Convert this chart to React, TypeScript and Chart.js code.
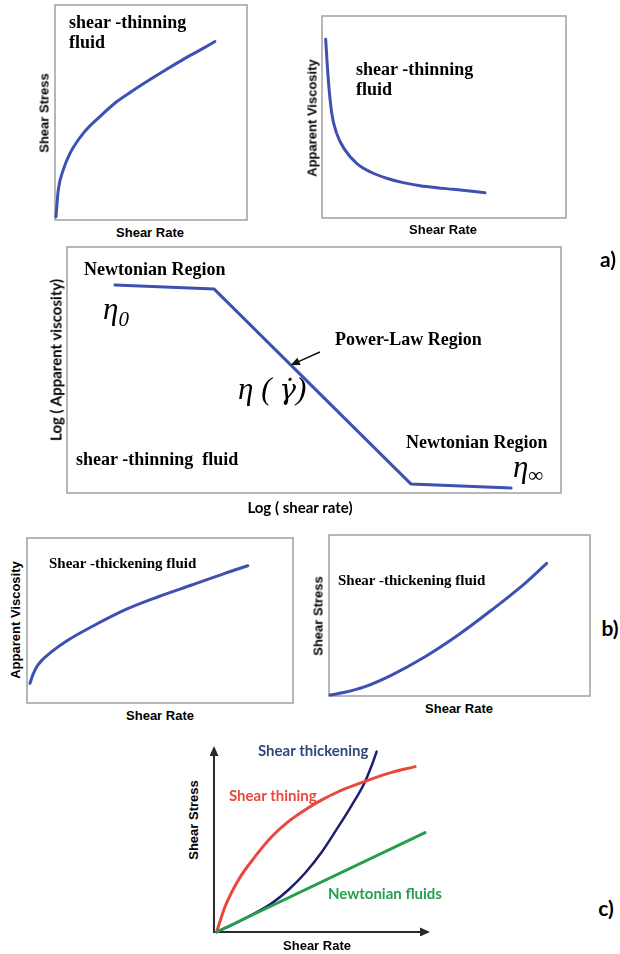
import React, { useEffect, useRef } from "react";
import { Chart, registerables } from "chart.js";
Chart.register(...registerables);

// ---------- DATA (normalised 0..100 units of each panel) ----------
// a) top-left: shear stress vs shear rate, shear-thinning
const thinStressX = [0.5, 1.7, 4.3, 7.8, 14.7, 23.4, 32.1, 40.8, 49.5, 58.2, 66.8, 75.5, 83.3];
const thinStressY = [1.5, 13.9, 23.3, 31.0, 40.3, 48.1, 55.0, 60.3, 65.3, 70.1, 74.7, 79.0, 83.0];
// a) top-right: apparent viscosity vs shear rate, shear-thinning
const thinViscX = [1.5, 2.6, 4.0, 6.0, 9.4, 14.2, 19.7, 26.5, 33.3, 40.2, 47.0, 53.8, 66.8];
const thinViscY = [88.5, 68.3, 51.8, 41.9, 33.7, 27.1, 22.9, 19.7, 17.5, 16.0, 15.0, 14.2, 12.5];
// a) middle: log viscosity vs log shear rate
const logRateX = [9.7, 29.8, 69.6, 89.9];
const logViscY = [84.6, 82.9, 3.7, 2.0];
const arrowFrom = [51.2, 57.3];
const arrowTo = [45.3, 52.0];
// b) left: apparent viscosity, shear-thickening
const thickViscX = [1.1, 2.3, 4.2, 9.3, 15.5, 24.3, 36.8, 49.4, 61.9, 74.4, 83.0];
const thickViscY = [11.9, 17.5, 23.3, 31.1, 38.2, 46.2, 56.4, 64.4, 71.5, 78.6, 83.2];
// b) right: shear stress, shear-thickening
const thickStressX = [0.4, 6.1, 13.8, 24.0, 36.8, 49.5, 62.3, 75.1, 83.4];
const thickStressY = [0.6, 2.3, 5.8, 13.0, 24.4, 37.9, 53.4, 70.0, 82.4];
// c) comparison
const cThinX = [1.2, 5.1, 11.3, 19.0, 26.7, 34.4, 42.1, 49.9, 57.5, 65.3, 80.7, 93.1];
const cThinY = [0, 13.6, 28.0, 40.5, 51.2, 59.3, 65.6, 71.0, 75.4, 79.0, 85.3, 88.9];
const cThickX = [1.2, 11.3, 19.0, 26.7, 34.4, 42.1, 49.9, 57.5, 63.7, 69.6, 73.0, 75.3];
const cThickY = [0, 5.5, 10.1, 15.4, 22.6, 31.6, 43.0, 56.5, 68.0, 80.0, 89.5, 97.0];
const cNewtX = [1.2, 97.7];
const cNewtY = [0, 53.4];

const BLUE = "rgb(62,80,178)";
const RED = "rgb(232,72,62)";
const NAVY = "rgb(28,30,110)";
const GREEN = "rgb(38,158,78)";

const SERIF = "'Liberation Serif', 'Times New Roman', serif";
const MATH = "'Liberation Serif', 'DejaVu Serif', serif";
const SANS = "'Liberation Sans', Arial, sans-serif";
const CALI = "Lato, 'Open Sans', sans-serif";

const pts = (xs: number[], ys: number[]) => xs.map((x, i) => ({ x, y: ys[i] }));

const framePlugin = {
  id: "frame",
  beforeDatasetsDraw(chart: any, _args: any, opts: any) {
    const { ctx, chartArea: a } = chart;
    ctx.save();
    if (opts.kind === "box") {
      ctx.strokeStyle = "#a0a0a0";
      ctx.lineWidth = 1.5;
      ctx.strokeRect(a.left, a.top, a.right - a.left, a.bottom - a.top);
    } else if (opts.kind === "arrows") {
      ctx.strokeStyle = "#2a2a2a";
      ctx.fillStyle = "#2a2a2a";
      ctx.lineWidth = 2;
      ctx.beginPath();
      ctx.moveTo(a.left, a.top + 6);
      ctx.lineTo(a.left, a.bottom);
      ctx.lineTo(a.right - 6, a.bottom);
      ctx.stroke();
      ctx.beginPath();
      ctx.moveTo(a.left, a.top);
      ctx.lineTo(a.left - 4.5, a.top + 10);
      ctx.lineTo(a.left + 4.5, a.top + 10);
      ctx.closePath();
      ctx.fill();
      ctx.beginPath();
      ctx.moveTo(a.right, a.bottom);
      ctx.lineTo(a.right - 10, a.bottom - 4.5);
      ctx.lineTo(a.right - 10, a.bottom + 4.5);
      ctx.closePath();
      ctx.fill();
    }
    ctx.restore();
  },
  afterDatasetsDraw(chart: any, _args: any, opts: any) {
    if (!opts.arrow) return;
    const { ctx, scales } = chart;
    const x1 = scales.x.getPixelForValue(opts.arrow[0][0]);
    const y1 = scales.y.getPixelForValue(opts.arrow[0][1]);
    const x2 = scales.x.getPixelForValue(opts.arrow[1][0]);
    const y2 = scales.y.getPixelForValue(opts.arrow[1][1]);
    const ang = Math.atan2(y2 - y1, x2 - x1);
    ctx.save();
    ctx.strokeStyle = "#111";
    ctx.fillStyle = "#111";
    ctx.lineWidth = 1.5;
    ctx.beginPath();
    ctx.moveTo(x1, y1);
    ctx.lineTo(x2 - 6 * Math.cos(ang), y2 - 6 * Math.sin(ang));
    ctx.stroke();
    ctx.beginPath();
    ctx.moveTo(x2, y2);
    ctx.lineTo(x2 - 9 * Math.cos(ang) + 4 * Math.sin(ang), y2 - 9 * Math.sin(ang) - 4 * Math.cos(ang));
    ctx.lineTo(x2 - 9 * Math.cos(ang) - 4 * Math.sin(ang), y2 - 9 * Math.sin(ang) + 4 * Math.cos(ang));
    ctx.closePath();
    ctx.fill();
    ctx.restore();
  },
};

type Series = { xs: number[]; ys: number[]; color: string; width?: number; straight?: boolean };

const P = 4;

function Panel(props: {
  left: number; top: number; width: number; height: number;
  series: Series[]; kind: "box" | "arrows"; arrow?: number[][];
}) {
  const ref = useRef<HTMLCanvasElement>(null);
  useEffect(() => {
    const chart = new Chart(ref.current as HTMLCanvasElement, {
      type: "line",
      data: {
        datasets: props.series.map((s) => ({
          data: pts(s.xs, s.ys),
          borderColor: s.color,
          borderWidth: s.width ?? 3,
          pointRadius: 0,
          fill: false,
          tension: s.straight ? 0 : 0.4,
          cubicInterpolationMode: s.straight ? "default" : "monotone",
          borderCapStyle: "round",
          borderJoinStyle: "round",
          clip: 8,
        })),
      },
      options: {
        animation: false,
        responsive: false,
        maintainAspectRatio: false,
        events: [],
        layout: { padding: P },
        scales: {
          x: { type: "linear", min: 0, max: 100, display: false },
          y: { type: "linear", min: 0, max: 100, display: false },
        },
        plugins: {
          legend: { display: false },
          tooltip: { enabled: false },
          frame: { kind: props.kind, arrow: props.arrow },
        } as any,
      },
      plugins: [framePlugin],
    } as any);
    return () => chart.destroy();
  }, []);
  return (
    <canvas
      ref={ref}
      width={props.width + 2 * P}
      height={props.height + 2 * P}
      style={{
        position: "absolute",
        left: props.left - P,
        top: props.top - P,
        width: props.width + 2 * P,
        height: props.height + 2 * P,
      }}
    />
  );
}

function Label(props: {
  x: number; y: number; children: React.ReactNode; family: string; size: number;
  weight?: string | number; color?: string; rotate?: boolean; anchor?: "left" | "center"; italic?: boolean;
}) {
  const t =
    (props.anchor === "left" ? "translateY(-50%)" : "translate(-50%,-50%)") +
    (props.rotate ? " rotate(-90deg)" : "");
  return (
    <div
      style={{
        position: "absolute",
        left: props.x,
        top: props.y,
        transform: t,
        whiteSpace: "pre",
        lineHeight: 1,
        fontFamily: props.family,
        fontSize: props.size,
        fontWeight: props.weight ?? "bold",
        fontStyle: props.italic ? "italic" : "normal",
        color: props.color ?? "#000",
      }}
    >
      {props.children}
    </div>
  );
}

export default function App() {
  return (
    <div style={{ position: "absolute", left: 0, top: 0, width: 620, height: 954, background: "#fff", overflow: "hidden" }}>
      {/* a) top-left */}
      <Panel left={55} top={5} width={192} height={215} kind="box"
        series={[{ xs: thinStressX, ys: thinStressY, color: BLUE }]} />
      <Label x={69} y={22} anchor="left" family={SERIF} size={18}>shear -thinning</Label>
      <Label x={69} y={42} anchor="left" family={SERIF} size={18}>fluid</Label>
      <Label x={44} y={113} rotate family={SANS} size={13}>Shear Stress</Label>
      <Label x={150} y={232} family={SANS} size={13}>Shear Rate</Label>

      {/* a) top-right */}
      <Panel left={322} top={16} width={244} height={202} kind="box"
        series={[{ xs: thinViscX, ys: thinViscY, color: BLUE }]} />
      <Label x={356} y={69} anchor="left" family={SERIF} size={18}>shear -thinning</Label>
      <Label x={356} y={89} anchor="left" family={SERIF} size={18}>fluid</Label>
      <Label x={312} y={118} rotate family={SANS} size={13}>Apparent Viscosity</Label>
      <Label x={443} y={229} family={SANS} size={13}>Shear Rate</Label>
      <Label x={608} y={258} family={CALI} size={21}>a)</Label>

      {/* a) middle */}
      <Panel left={67} top={247} width={494} height={246} kind="box" arrow={[arrowFrom, arrowTo]}
        series={[{ xs: logRateX, ys: logViscY, color: BLUE, straight: true }]} />
      <Label x={84} y={269} anchor="left" family={SERIF} size={18}>Newtonian Region</Label>
      <Label x={103} y={308} anchor="left" family={MATH} size={31} weight="normal" italic>
        η<span style={{ fontSize: 21, position: "relative", top: 7 }}>0</span>
      </Label>
      <Label x={335} y={339} anchor="left" family={SERIF} size={18}>Power-Law Region</Label>
      <Label x={238} y={388} anchor="left" family={MATH} size={31} weight="normal" italic>
        {"η ( "}
        <span style={{ fontFamily: "'DejaVu Serif', serif", fontSize: 28 }}>{"γ\u0307"}</span>
        {")"}
      </Label>
      <Label x={406} y={442} anchor="left" family={SERIF} size={18}>Newtonian Region</Label>
      <Label x={513} y={466} anchor="left" family={MATH} size={31} weight="normal" italic>
        η<span style={{ fontSize: 21, position: "relative", top: 5 }}>∞</span>
      </Label>
      <Label x={76} y={459} anchor="left" family={SERIF} size={18}>{"shear -thinning  fluid"}</Label>
      <Label x={56} y={360} rotate family={CALI} size={15}>Log ( Apparent viscosity)</Label>
      <Label x={300} y={507} family={CALI} size={15}>Log ( shear rate)</Label>

      {/* b) left */}
      <Panel left={27} top={538} width={266} height={165} kind="box"
        series={[{ xs: thickViscX, ys: thickViscY, color: BLUE }]} />
      <Label x={49} y={563} anchor="left" family={SERIF} size={15}>Shear -thickening fluid</Label>
      <Label x={15} y={620} rotate family={SANS} size={13}>Apparent Viscosity</Label>
      <Label x={160} y={715} family={SANS} size={13}>Shear Rate</Label>

      {/* b) right */}
      <Panel left={329} top={535} width={261} height={161} kind="box"
        series={[{ xs: thickStressX, ys: thickStressY, color: BLUE }]} />
      <Label x={338} y={580} anchor="left" family={SERIF} size={15}>Shear -thickening fluid</Label>
      <Label x={318} y={616} rotate family={SANS} size={13}>Shear Stress</Label>
      <Label x={459} y={708} family={SANS} size={13}>Shear Rate</Label>
      <Label x={610} y={627} family={CALI} size={21}>b)</Label>

      {/* c) */}
      <Panel left={214} top={746} width={216} height={186} kind="arrows"
        series={[
          { xs: cNewtX, ys: cNewtY, color: GREEN, width: 3, straight: true },
          { xs: cThinX, ys: cThinY, color: RED, width: 3 },
          { xs: cThickX, ys: cThickY, color: NAVY, width: 2.5 },
        ]} />
      <Label x={258} y={750} anchor="left" family={CALI} size={15} color="rgb(46,72,125)">Shear thickening</Label>
      <Label x={229} y={795} anchor="left" family={CALI} size={15} color={RED}>Shear thining</Label>
      <Label x={328} y={893} anchor="left" family={CALI} size={15} color={GREEN}>Newtonian fluids</Label>
      <Label x={193} y={820} rotate family={SANS} size={13}>Shear Stress</Label>
      <Label x={317} y={945} family={SANS} size={13}>Shear Rate</Label>
      <Label x={606} y={907} family={CALI} size={21}>c)</Label>
    </div>
  );
}
